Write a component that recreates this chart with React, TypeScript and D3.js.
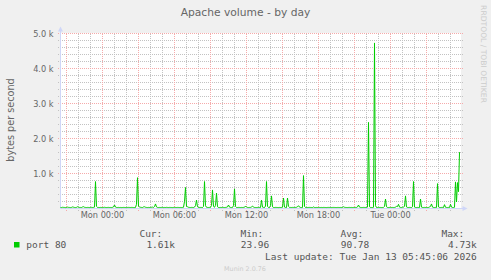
import React from 'react';
import * as d3 from 'd3';

const title = 'Apache volume - by day';
const yAxisLabel = 'bytes per second';
const watermark = 'RRDTOOL / TOBI OETIKER';
const footer = 'Munin 2.0.76';
const yTickValues = [1000, 2000, 3000, 4000, 5000];
const yTickLabels = ['1.0 k', '2.0 k', '3.0 k', '4.0 k', '5.0 k'];
const xTickLabels = ['Mon 00:00', 'Mon 06:00', 'Mon 12:00', 'Mon 18:00', 'Tue 00:00'];
const xTickHours = [0, 6, 12, 18, 24];
const seriesName = 'port 80';
const statLabels = ['Cur:', 'Min:', 'Avg:', 'Max:'];
const statValues = ['1.61k', '23.96', '90.78', '4.73k'];
const lastUpdate = 'Last update: Tue Jan 13 05:45:06 2026';
const stepMinutes = 5;

// 5-minute samples, Sun 20:30 -> Tue 05:45 (bytes per second)
const portValues = [
  30, 28, 35, 32, 30, 26, 29, 40, 33, 30, 27, 31, 45, 38, 30, 28, 33, 50, 36, 30,
  30, 29, 44, 52, 35, 30, 28, 31, 30, 27, 30, 33, 29, 31, 40, 770, 60, 32, 30, 28,
  31, 29, 27, 30, 35, 30, 28, 30, 32, 29, 30, 28, 33, 45, 100, 40, 30, 29, 31, 28,
  30, 27, 29, 31, 30, 28, 26, 30, 32, 30, 29, 31, 30, 28, 27, 30, 120, 880, 70, 40,
  35, 30, 28, 45, 50, 36, 30, 28, 31, 29, 30, 34, 40, 30, 55, 130, 45, 30, 28, 30,
  29, 31, 30, 27, 30, 29, 33, 30, 28, 31, 30, 29, 27, 30, 32, 30, 29, 31, 30, 28,
  30, 28, 30, 35, 200, 600, 60, 50, 35, 30, 29, 31, 30, 28, 40, 80, 240, 50, 30, 29,
  31, 30, 28, 60, 770, 80, 35, 30, 29, 31, 30, 90, 530, 60, 35, 90, 440, 50, 30, 28,
  30, 29, 31, 30, 28, 30, 35, 45, 100, 40, 30, 28, 31, 80, 560, 60, 30, 29, 31, 30,
  28, 30, 29, 31, 35, 70, 40, 30, 28, 30, 31, 45, 70, 38, 30, 29, 28, 30, 31, 30,
  30, 240, 40, 30, 28, 70, 770, 60, 30, 29, 80, 360, 50, 30, 28, 31, 30, 29, 27, 30,
  29, 30, 35, 300, 40, 30, 28, 300, 60, 32, 30, 29, 31, 30, 28, 30, 35, 50, 80, 40,
  30, 28, 30, 940, 60, 30, 29, 28, 30, 31, 30, 29, 28, 45, 30, 28, 30, 29, 31, 30,
  29, 30, 28, 31, 30, 29, 27, 30, 31, 30, 29, 28, 30, 31, 30, 29, 28, 30, 30, 29,
  30, 28, 31, 50, 35, 30, 29, 28, 30, 31, 29, 30, 28, 30, 29, 31, 30, 45, 100, 40,
  30, 28, 29, 31, 30, 29, 28, 40, 2460, 50, 30, 29, 28, 35, 4730, 80, 30, 28, 31, 29,
  30, 28, 29, 31, 60, 270, 50, 30, 28, 30, 31, 29, 30, 28, 30, 40, 60, 55, 120, 40,
  30, 28, 35, 40, 60, 360, 45, 30, 29, 31, 30, 28, 50, 770, 40, 30, 28, 31, 29, 30,
  270, 40, 30, 28, 31, 29, 30, 28, 30, 45, 60, 130, 40, 30, 28, 31, 30, 710, 45, 30,
  28, 30, 31, 29, 110, 35, 30, 28, 31, 29, 120, 40, 30, 28, 35, 760, 190, 740, 480, 1610,
];

const W = 491;
const H = 280;
const plotLeft = 60.5;
const plotRight = 460.5;
const plotTop = 33.5;
const plotBottom = 208.5;

const startTime = new Date(2026, 0, 11, 20, 30);
const endTime = new Date(2026, 0, 13, 5, 50);
const monday = new Date(2026, 0, 12, 0, 0);

export default function App() {
  const x = d3.scaleTime().domain([startTime, endTime]).range([plotLeft, plotRight]);
  const y = d3.scaleLinear().domain([0, 5000]).range([plotBottom, plotTop]);

  const data = portValues.map((v, i) => ({
    t: new Date(startTime.getTime() + i * stepMinutes * 60000),
    v,
  }));
  const line = d3
    .line<{ t: Date; v: number }>()
    .x((d) => x(d.t))
    .y((d) => y(d.v));

  const minorX = x.ticks(d3.timeHour.every(1)!).filter((t) => t.getHours() % 3 !== 0);
  const majorX = x.ticks(d3.timeHour.every(3)!);
  const minorY = d3.range(200, 5001, 200).filter((v) => v % 1000 !== 0);

  const font = "'DejaVu Sans', sans-serif";
  const mono = "'DejaVu Sans Mono', monospace";
  const fontColor = '#666666';
  const minorColor = '#c2c2c2';
  const majorColor = '#f5aaaa';

  const statLabelRight = [162.3, 263.3, 363.3, 464.3];
  const statValueRight = [175, 269.3, 369.3, 476.7];

  // pixel column / row of a grid line
  const px = (t: Date) => Math.floor(x(t));
  const py = (v: number) => Math.floor(y(v));

  return (
    <svg
      width={W}
      height={H}
      style={{ position: 'absolute', left: 0, top: 0, display: 'block' }}
    >
      <defs>
        <pattern id="hMinor" x={0} y={0} width={2} height={1} patternUnits="userSpaceOnUse">
          <rect x={0} y={0} width={1} height={1} fill={minorColor} />
        </pattern>
        <pattern id="vMinor" x={0} y={0} width={1} height={2} patternUnits="userSpaceOnUse">
          <rect x={0} y={0} width={1} height={1} fill={minorColor} />
        </pattern>
        <pattern id="hMajor" x={0} y={0} width={2} height={1} patternUnits="userSpaceOnUse">
          <rect x={0} y={0} width={1} height={1} fill={majorColor} />
        </pattern>
        <pattern id="vMajor" x={0} y={0} width={1} height={2} patternUnits="userSpaceOnUse">
          <rect x={0} y={0} width={1} height={1} fill={majorColor} />
        </pattern>
      </defs>
      <rect x={0} y={0} width={W} height={H} fill="#f0f0f0" />
      <rect x={61} y={33} width={400} height={175.5} fill="#ffffff" />

      {/* minor grid */}
      {minorX.map((t, i) => (
        <rect key={'mx' + i} x={px(t)} y={33} width={1} height={178} fill="url(#vMinor)" />
      ))}
      {minorY.map((v, i) => (
        <rect key={'my' + i} x={58} y={py(v)} width={405} height={1} fill="url(#hMinor)" />
      ))}
      {/* major grid */}
      {majorX.map((t, i) => (
        <rect key={'Mx' + i} x={px(t)} y={33} width={1} height={178} fill="url(#vMajor)" />
      ))}
      {yTickValues.map((v, i) => (
        <rect key={'My' + i} x={58} y={py(v)} width={405} height={1} fill="url(#hMajor)" />
      ))}

      {/* axes */}
      <line x1={plotLeft} x2={plotRight + 3} y1={plotBottom} y2={plotBottom} stroke="#cfd6f8" />
      <path
        d={`M${plotRight + 2},${plotBottom - 2.5} L${plotRight + 7},${plotBottom} L${plotRight + 2},${plotBottom + 2.5} Z`}
        fill="#cfd6f8"
      />
      <line x1={plotLeft} x2={plotLeft} y1={plotBottom} y2={plotTop - 3} stroke="#cfd6f8" />
      <path
        d={`M${plotLeft - 2.5},${plotTop - 2} L${plotLeft},${plotTop - 7} L${plotLeft + 2.5},${plotTop - 2} Z`}
        fill="#cfd6f8"
      />

      {/* series */}
      <path d={line(data) || ''} fill="none" stroke="#00cc00" strokeWidth={1} />

      {/* y tick labels */}
      {yTickValues.map((v, i) => (
        <text
          key={'yl' + i}
          x={53.5}
          y={y(v) + 3}
          textAnchor="end"
          fontFamily={font}
          fontSize={8.2}
          fill={fontColor}
        >
          {yTickLabels[i]}
        </text>
      ))}
      {/* x tick labels */}
      {xTickHours.map((h, i) => {
        const t = new Date(monday.getTime() + h * 3600000);
        return (
          <text
            key={'xl' + i}
            x={px(t) + 0.5}
            y={218}
            textAnchor="middle"
            fontFamily={font}
            fontSize={8.2}
            fill={fontColor}
          >
            {xTickLabels[i]}
          </text>
        );
      })}

      {/* title */}
      <text x={245.5} y={16} textAnchor="middle" fontFamily={font} fontSize={10.7} fill={fontColor}>
        {title}
      </text>
      {/* y axis label */}
      <text
        transform={`translate(13.5,120) rotate(-90)`}
        textAnchor="middle"
        fontFamily={font}
        fontSize={9.7}
        fill={fontColor}
      >
        {yAxisLabel}
      </text>
      {/* watermark */}
      <text
        transform={`translate(481,54) rotate(90)`}
        textAnchor="middle"
        fontFamily={font}
        fontSize={7.6}
        fill="#cccccc"
      >
        {watermark}
      </text>

      {/* legend */}
      <rect x={14} y={242} width={5.5} height={5.5} fill="#00cc00" />
      <text x={26.3} y={248} fontFamily={mono} fontSize={9.5} fill="#555555" xmlSpace="preserve">
        {seriesName}
      </text>
      {statLabels.map((s, i) => (
        <text
          key={'sl' + i}
          x={statLabelRight[i]}
          y={236.5}
          textAnchor="end"
          fontFamily={mono}
          fontSize={9.5}
          fill="#555555"
        >
          {s}
        </text>
      ))}
      {statValues.map((s, i) => (
        <text
          key={'sv' + i}
          x={statValueRight[i]}
          y={248}
          textAnchor="end"
          fontFamily={mono}
          fontSize={9.5}
          fill="#555555"
        >
          {s}
        </text>
      ))}
      <text x={476.7} y={259.5} textAnchor="end" fontFamily={mono} fontSize={9.5} fill="#555555">
        {lastUpdate}
      </text>
      <text x={245} y={271} textAnchor="middle" fontFamily={font} fontSize={6.4} fill="#cccccc">
        {footer}
      </text>
    </svg>
  );
}
